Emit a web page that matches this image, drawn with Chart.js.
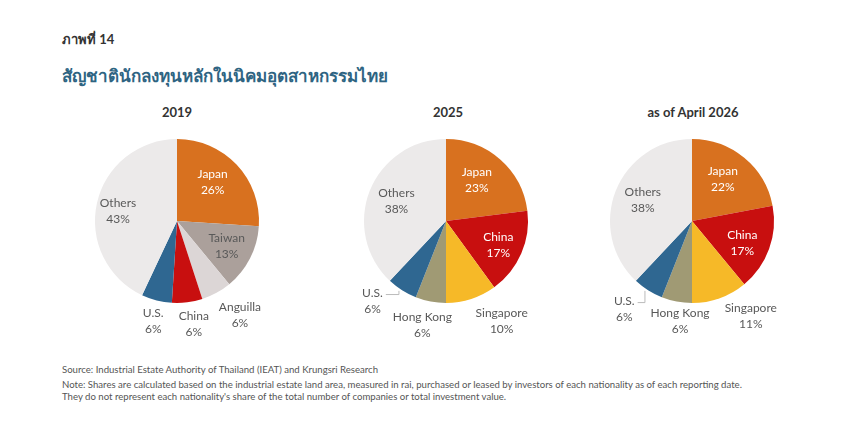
<!DOCTYPE html>
<html>
<head>
<meta charset="utf-8">
<script src="https://cdn.jsdelivr.net/npm/chart.js@4.4.1/dist/chart.umd.min.js"></script>
<style>
  body { margin: 0; background: #fff; width: 860px; height: 428px; position: relative; overflow: hidden; font-family: Lato, "Noto Sans", sans-serif; }
  .txt { position: absolute; white-space: nowrap; }
  .pie { position: absolute; }
  .ptitle { position: absolute; font-weight: bold; font-size: 13px; color: #333; transform: translateX(-50%); }
</style>
</head>
<body>
<div class="txt" style="left:62px;top:29px;font-size:13px;font-weight:bold;color:#333;">ภาพที่ 14</div>
<div class="txt" style="left:62px;top:62px;font-size:17px;font-weight:bold;color:#2E6482;">สัญชาตินักลงทุนหลักในนิคมอุตสาหกรรมไทย</div>

<div class="ptitle" style="left:177px;top:104px;">2019</div>
<div class="ptitle" style="left:448px;top:104px;">2025</div>
<div class="ptitle" style="left:693px;top:104px;">as of April 2026</div>

<canvas id="pie2019" class="pie" width="260" height="260" style="left:47px;top:91px;"></canvas>
<canvas id="pie2025" class="pie" width="260" height="260" style="left:316px;top:91px;"></canvas>
<canvas id="pie2026" class="pie" width="260" height="260" style="left:562px;top:91px;"></canvas>

<div class="txt" style="left:62px;top:364px;font-size:9.6px;color:#555;">Source: Industrial Estate Authority of Thailand (IEAT) and Krungsri Research</div>
<div class="txt" style="left:62px;top:379px;font-size:9.6px;color:#555;line-height:11.5px;">Note: Shares are calculated based on the industrial estate land area, measured in rai, purchased or leased by investors of each nationality as of each reporting date.<br>They do not represent each nationality's share of the total number of companies or total investment value.</div>

<script>
// data
const labels2019 = ['Japan', 'Taiwan', 'Anguilla', 'China', 'U.S.', 'Others'];
const values2019 = [26, 13, 6, 6, 6, 43];

const labels2025 = ['Japan', 'China', 'Singapore', 'Hong Kong', 'U.S.', 'Others'];
const values2025 = [23, 17, 10, 6, 6, 38];

const labels2026 = ['Japan', 'China', 'Singapore', 'Hong Kong', 'U.S.', 'Others'];
const values2026 = [22, 17, 11, 6, 6, 38];

const colorOf = {
  'Japan': '#D8711F',
  'Taiwan': '#ABA09B',
  'Anguilla': '#DCD6D6',
  'China': '#C80F0F',
  'U.S.': '#2F6791',
  'Others': '#ECEAEA',
  'Singapore': '#F6B928',
  'Hong Kong': '#A09A74'
};
const whiteText = ['Japan', 'China'];

// label placement: distance as share of radius, angle shift in degrees, leader line
const pieLabels = {
  id: 'pieLabels',
  afterDraw(chart, args, opts) {
    const ctx = chart.ctx;
    const meta = chart.getDatasetMeta(0);
    const labels = chart.data.labels;
    const values = chart.data.datasets[0].data;
    ctx.save();
    ctx.font = '12px Lato, "Noto Sans", sans-serif';
    ctx.textAlign = 'center';
    ctx.textBaseline = 'middle';
    meta.data.forEach((arc, i) => {
      const p = arc.getProps(['x', 'y', 'startAngle', 'endAngle', 'outerRadius']);
      const mid = (p.startAngle + p.endAngle) / 2 + (opts.shift[i] || 0) * Math.PI / 180;
      const d = p.outerRadius * opts.dist[i];
      const lx = p.x + Math.cos(mid) * d;
      const ly = p.y + Math.sin(mid) * d;
      const inside = opts.dist[i] < 1;
      ctx.fillStyle = inside && whiteText.includes(labels[i]) ? '#FFFFFF' : '#595959';
      ctx.fillText(labels[i], lx, ly - 8);
      ctx.fillText(values[i] + '%', lx, ly + 8);
      if (opts.leader && opts.leader[i]) {
        const realMid = (p.startAngle + p.endAngle) / 2;
        const ex = p.x + Math.cos(realMid) * p.outerRadius * 0.98;
        const ey = p.y + Math.sin(realMid) * p.outerRadius * 0.98;
        const sx = lx + ctx.measureText(labels[i]).width / 2 + 3;
        const sy = ly - 7;
        ctx.strokeStyle = '#BBBBBB';
        ctx.lineWidth = 1;
        ctx.beginPath();
        ctx.moveTo(sx, sy);
        ctx.lineTo(ex - 4, sy);
        ctx.lineTo(ex - 4, ey + 2);
        ctx.stroke();
      }
    });
    ctx.restore();
  }
};

function makePie(id, labels, values, labelOpts) {
  return new Chart(document.getElementById(id), {
    type: 'pie',
    data: {
      labels: labels,
      datasets: [{
        data: values,
        backgroundColor: labels.map(l => colorOf[l]),
        borderWidth: 0
      }]
    },
    options: {
      responsive: false,
      animation: false,
      layout: { padding: 48 },
      plugins: {
        legend: { display: false },
        tooltip: { enabled: false },
        pieLabels: labelOpts
      }
    },
    plugins: [pieLabels]
  });
}

makePie('pie2019', labels2019, values2019, {
  dist: [0.64, 0.68, 1.38, 1.28, 1.25, 0.73],
  shift: [-4, 0, -5, -2, -1, -3]
});
makePie('pie2025', labels2025, values2025, {
  dist: [0.62, 0.70, 1.40, 1.30, 1.33, 0.65],
  shift: [-4, 1, -11, 2, 10, 0],
  leader: [false, false, false, false, true, false]
});
makePie('pie2026', labels2026, values2026, {
  dist: [0.63, 0.67, 1.36, 1.23, 1.36, 0.65],
  shift: [-3, 4, -12, -4, 5, 1],
  leader: [false, false, false, false, true, false]
});
</script>
</body>
</html>
